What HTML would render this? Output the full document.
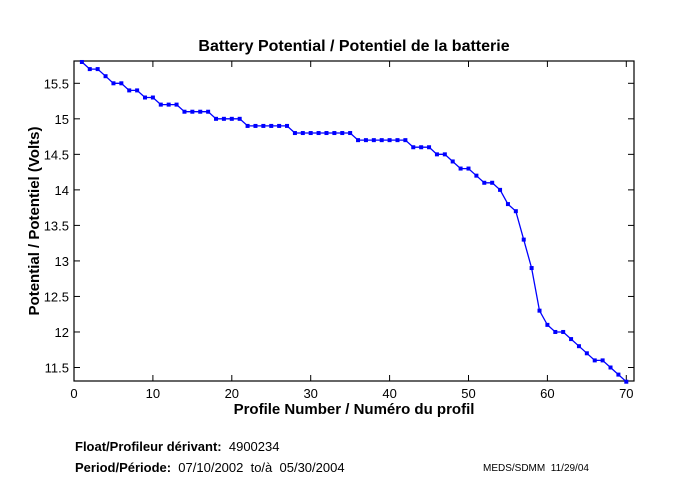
<!DOCTYPE html>
<html><head><meta charset="utf-8"><style>
body{margin:0;background:#fff}
svg{display:block;font-family:"Liberation Sans",sans-serif}
text{white-space:pre}
</style></head><body>
<svg id="s" width="680" height="500" viewBox="0 0 680 500" xmlns="http://www.w3.org/2000/svg">
<rect width="680" height="500" fill="#fff"/>
<text x="354" y="51" font-size="16" font-weight="bold" text-anchor="middle">Battery Potential / Potentiel de la batterie</text>
<rect x="74" y="61" width="560" height="320" fill="none" stroke="#000" stroke-width="1.2"/>
<g id="ticks" stroke="#000" stroke-width="1"></g>
<g id="lbl" font-size="13" fill="#000"></g>
<text x="354" y="414" font-size="15" font-weight="bold" text-anchor="middle">Profile Number / Numéro du profil</text>
<text transform="translate(39,221) rotate(-90)" font-size="15" font-weight="bold" text-anchor="middle">Potential / Potentiel (Volts)</text>
<polyline id="ln" fill="none" stroke="#0000ff" stroke-width="1.3"/>
<g id="mk" fill="#0000ff"></g>
<text x="75" y="451" font-size="13" xml:space="preserve"><tspan font-weight="bold">Float/Profileur dérivant:</tspan>  4900234</text>
<text x="75" y="472" font-size="13" xml:space="preserve"><tspan font-weight="bold">Period/Période:</tspan>  07/10/2002  to/à  05/30/2004</text>
<text x="483" y="471" font-size="10" xml:space="preserve">MEDS/SDMM  11/29/04</text>
</svg>
<script>
var v=[15.8,15.7,15.7,15.6,15.5,15.5,15.4,15.4,15.3,15.3,15.2,15.2,15.2,15.1,15.1,15.1,15.1,15.0,15,15,15,14.9,14.9,14.9,14.9,14.9,14.9,14.8,14.8,14.8,14.8,14.8,14.8,14.8,14.8,14.7,14.7,14.7,14.7,14.7,14.7,14.7,14.6,14.6,14.6,14.5,14.5,14.4,14.3,14.3,14.2,14.1,14.1,14.0,13.8,13.7,13.3,12.9,12.3,12.1,12.0,12.0,11.9,11.8,11.7,11.6,11.6,11.5,11.4,11.3];
function X(n){return 74+7.89*n}function Y(u){return 83.3+(15.5-u)*71.05}
var ns="http://www.w3.org/2000/svg",pts=[],mk=document.getElementById('mk');
v.forEach(function(u,i){var x=X(i+1),y=Y(u);pts.push(x.toFixed(1)+','+y.toFixed(1));
var r=document.createElementNS(ns,'rect');r.setAttribute('x',x-2);r.setAttribute('y',y-2);r.setAttribute('width',4);r.setAttribute('height',4);mk.appendChild(r);});
document.getElementById('ln').setAttribute('points',pts.join(' '));
var t=document.getElementById('ticks'),l=document.getElementById('lbl'),h='',lh='';
for(var n=0;n<=70;n+=10){var x=X(n);h+='<line x1="'+x+'" y1="381" x2="'+x+'" y2="375"/><line x1="'+x+'" y1="61" x2="'+x+'" y2="67"/>';
lh+='<text x="'+x+'" y="398" text-anchor="middle">'+n+'</text>';}
for(var u=11.5;u<=15.51;u+=0.5){var y=Y(u);h+='<line x1="74" y1="'+y+'" x2="80" y2="'+y+'"/><line x1="634" y1="'+y+'" x2="628" y2="'+y+'"/>';
lh+='<text x="69" y="'+(y+5)+'" text-anchor="end">'+(Math.round(u*10)/10)+'</text>';}
t.innerHTML=h;l.innerHTML=lh;
</script>
</body></html>
